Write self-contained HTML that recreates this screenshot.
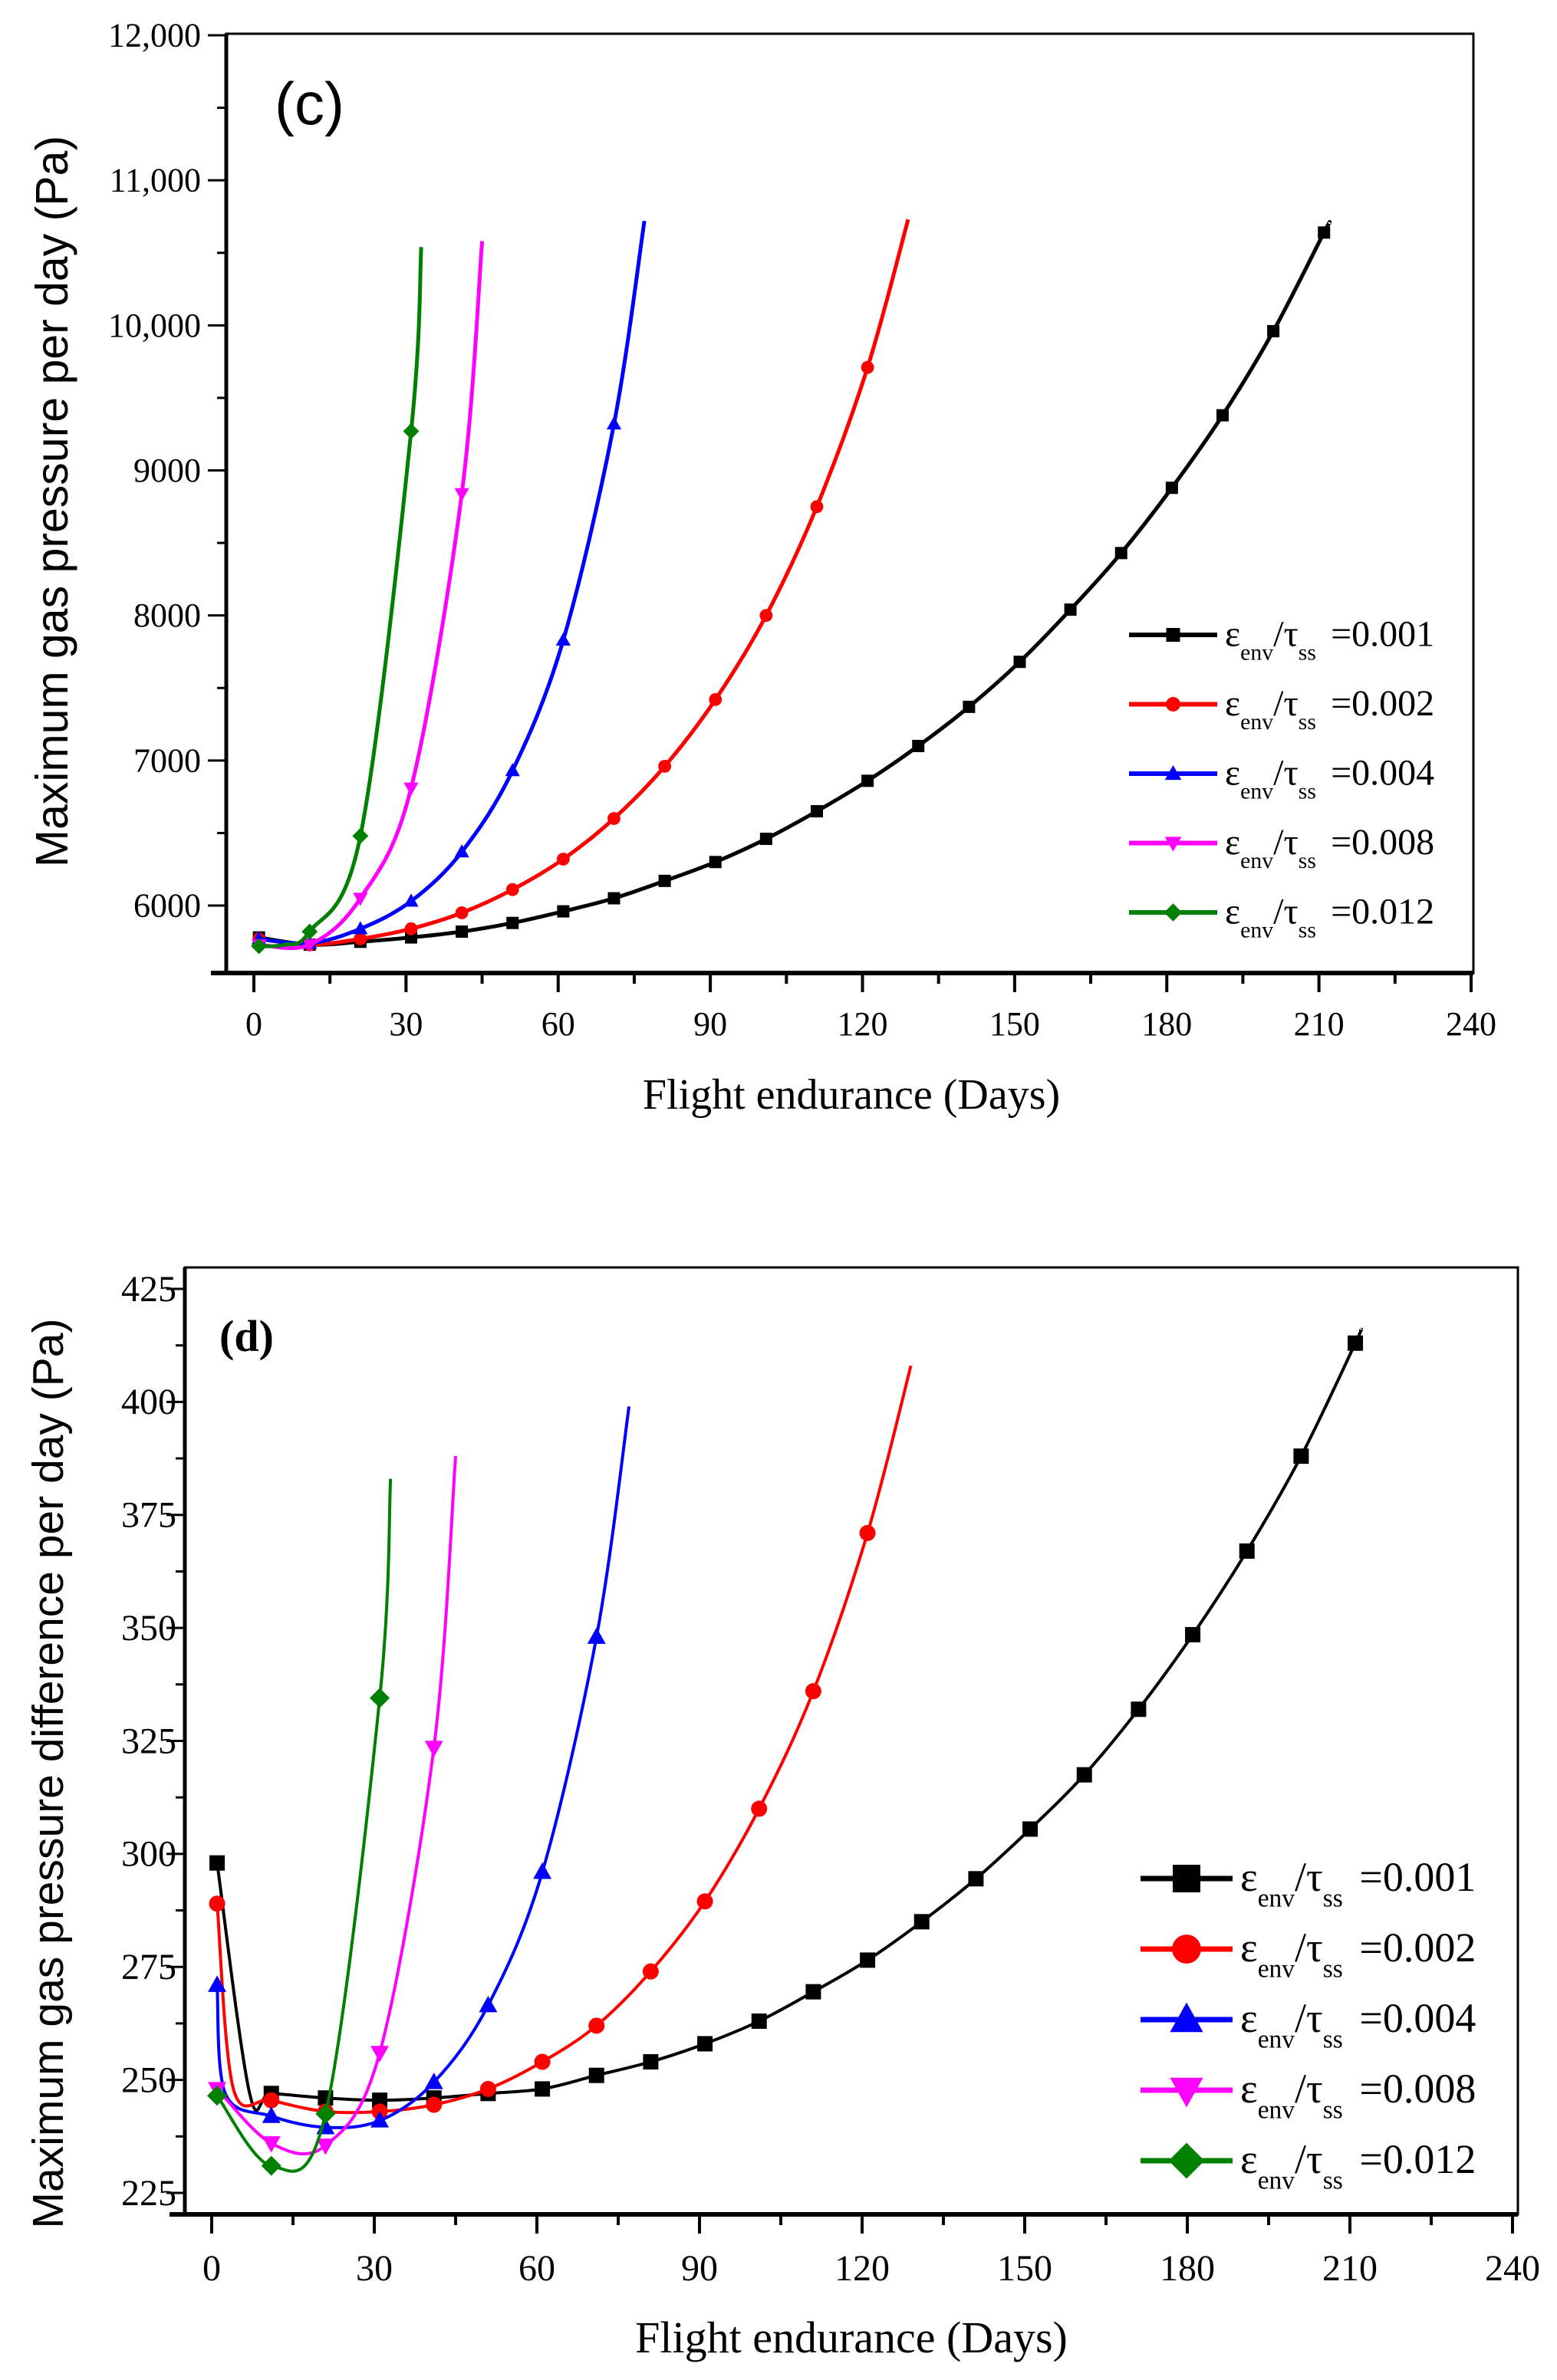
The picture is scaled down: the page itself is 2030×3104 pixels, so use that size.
<!DOCTYPE html>
<html><head><meta charset="utf-8">
<style>
html,body{margin:0;padding:0;background:#fff;}
svg{display:block;}
text{font-family:"Liberation Serif",serif;fill:#000;}
</style></head>
<body>
<svg id="fig" width="2030" height="3104" viewBox="0 0 2030 3104" xmlns="http://www.w3.org/2000/svg"></svg>
<script>
// ---- Chart (c) data ----
const cSeriesNames = ["0.001","0.002","0.004","0.008","0.012"];
const cDays001 = [1,11,21,31,41,51,61,71,81,91,101,111,121,131,141,151,161,171,181,191,201,211,212];
const cVals001 = [5780,5730,5750,5780,5820,5880,5960,6050,6170,6300,6460,6650,6860,7100,7370,7680,8040,8430,8880,9380,9960,10640,10700];
const cDays002 = [1,11,21,31,41,51,61,71,81,91,101,111,121,129];
const cVals002 = [5770,5730,5770,5840,5950,6110,6320,6600,6960,7420,8000,8750,9710,10730];
const cDays004 = [1,11,21,31,41,51,61,71,77];
const cVals004 = [5770,5740,5840,6030,6370,6930,7830,9320,10720];
const cDays008 = [1,11,21,31,41,45];
const cVals008 = [5730,5730,6050,6810,8840,10580];
const cDays012 = [1,6,11,21,31,33];
const cVals012 = [5720,5730,5820,6480,9270,10540];
const cYTicks = [6000,7000,8000,9000,10000,11000,12000];
const cYTickLabels = ["6000","7000","8000","9000","10,000","11,000","12,000"];
const xTicks = [0,30,60,90,120,150,180,210,240];
const xTickLabels = ["0","30","60","90","120","150","180","210","240"];

// ---- Chart (d) data ----
const dDays001 = [1,7,11,21,31,41,51,61,71,81,91,101,111,121,131,141,151,161,171,181,191,201,211,212];
const dVals001 = [298,247,247,246,245.5,246,247,248,251,254,258,263,269.5,276.5,285,294.5,305.5,317.5,332,348.5,367,388,413,416];
const dDays002 = [1,4,11,21,31,41,51,61,71,81,91,101,111,121,129];
const dVals002 = [289,248,245.5,243,243,244.5,248,254,262,274,289.5,310,336,371,408];
const dDays004 = [1,2.5,11,21,31,41,51,61,71,77];
const dVals004 = [271,247,242,239.5,241,249.5,266.5,296,348,399];
const dDays008 = [1,11,21,31,41,45];
const dVals008 = [248,236,235.5,256,323.5,388];
const dDays012 = [1,11,21,31,33];
const dVals012 = [246.5,231,242.5,334.5,383];
const dYTicks = [225,250,275,300,325,350,375,400,425];
const dYTickLabels = ["225","250","275","300","325","350","375","400","425"];

const colors = ["#000000","#ff0000","#0000ff","#ff00ff","#008000"];
const markerTypes = ["square","circle","triangle","tridown","diamond"];
const NS = "http://www.w3.org/2000/svg";
const fig = document.getElementById("fig");

function mk(tag, attrs, parent){
  const e = document.createElementNS(NS, tag);
  for (const k in attrs) e.setAttribute(k, attrs[k]);
  (parent||fig).appendChild(e);
  return e;
}

function smoothPath(pts){
  let d = "M" + pts[0][0].toFixed(1) + "," + pts[0][1].toFixed(1);
  for (let i=0;i<pts.length-1;i++){
    const p0 = pts[i-1]||pts[i], p1 = pts[i], p2 = pts[i+1], p3 = pts[i+2]||p2;
    const t = 6;
    const c1 = [p1[0]+(p2[0]-p0[0])/t, p1[1]+(p2[1]-p0[1])/t];
    const c2 = [p2[0]-(p3[0]-p1[0])/t, p2[1]-(p3[1]-p1[1])/t];
    d += " C"+c1[0].toFixed(1)+","+c1[1].toFixed(1)+" "+c2[0].toFixed(1)+","+c2[1].toFixed(1)+" "+p2[0].toFixed(1)+","+p2[1].toFixed(1);
  }
  return d;
}

function marker(type, x, y, s, color, parent){
  let e;
  if (type==="square") e = mk("rect",{x:x-s/2,y:y-s/2,width:s,height:s,fill:color},parent);
  else if (type==="circle") e = mk("circle",{cx:x,cy:y,r:s/2*1.05,fill:color},parent);
  else if (type==="triangle") e = mk("polygon",{points:`${x},${y-s*0.62} ${x-s*0.6},${y+s*0.45} ${x+s*0.6},${y+s*0.45}`,fill:color},parent);
  else if (type==="tridown") e = mk("polygon",{points:`${x},${y+s*0.62} ${x-s*0.6},${y-s*0.45} ${x+s*0.6},${y-s*0.45}`,fill:color},parent);
  else e = mk("polygon",{points:`${x},${y-s*0.65} ${x+s*0.65},${y} ${x},${y+s*0.65} ${x-s*0.65},${y}`,fill:color},parent);
  return e;
}

function drawChart(cfg){
  const g = mk("g",{});
  
  
  const xs = d => cfg.x0 + d*cfg.xPerDay;
  const ys = v => cfg.yRefPx - (v-cfg.yRefVal)*cfg.yPerUnit;
  cfg.series.forEach((s,i)=>{
    const pts = s.days.map((d,j)=>[xs(d), ys(s.vals[j])]);
    const p = mk("path",{d:smoothPath(pts),fill:"none",stroke:colors[i],"stroke-width":cfg.lw,"stroke-linejoin":"round"},g);
    
    
    s.days.forEach((d,j)=>{
      if (d%10!==1) return;
      const m = marker(markerTypes[i], xs(d), ys(s.vals[j]), cfg.ms, colors[i], g);
      
      
    });
  });
  const fr = mk("rect",{x:cfg.L,y:cfg.T,width:cfg.R-cfg.L,height:cfg.B-cfg.T,fill:"none",stroke:"#000","stroke-width":3},g);
  
  
  const xa = mk("line",{x1:cfg.L-20,y1:cfg.B,x2:cfg.R,y2:cfg.B,stroke:"#000","stroke-width":6},g);
  
  
  const ya = mk("line",{x1:cfg.L,y1:cfg.T,x2:cfg.L,y2:cfg.B,stroke:"#000","stroke-width":5},g);
  
  
  for (let d=0; d<=240; d+=15){
    const major = d%30===0;
    mk("line",{x1:xs(d),y1:cfg.B,x2:xs(d),y2:cfg.B+(major?25:14),stroke:"#000","stroke-width":4},g);
  }
  xTicks.forEach((d,i)=>{
    const t = mk("text",{x:xs(d),y:cfg.xLabY,"font-size":cfg.tickFs,"text-anchor":"middle"},g);
    t.textContent = xTickLabels[i];
    
    
  });
  for (let k=0;k<cfg.yMinor.length;k++){
    const v = cfg.yMinor[k];
    const y = ys(v); if (y<cfg.T-1||y>cfg.B+1) continue;
    mk("line",{x1:cfg.L-12,y1:y,x2:cfg.L,y2:y,stroke:"#000","stroke-width":3},g);
  }
  cfg.yTicks.forEach((v,i)=>{
    const y = ys(v);
    mk("line",{x1:cfg.L-24,y1:y,x2:cfg.L,y2:y,stroke:"#000","stroke-width":3},g);
    const t = mk("text",{x:cfg.yLabX,y:y+cfg.tickFs*0.33,"font-size":cfg.tickFs,"text-anchor":"end"},g);
    t.textContent = cfg.yTickLabels[i];
    
    
  });
  cfg.names.forEach((n,i)=>{
    const y = cfg.legY0 + i*cfg.legDy;
    const lg = mk("g",{},g);
    
    
    mk("line",{x1:cfg.legX,y1:y,x2:cfg.legX+cfg.legLen,y2:y,stroke:colors[i],"stroke-width":cfg.legLw},lg);
    marker(markerTypes[i], cfg.legX+cfg.legLen/2, y, cfg.legMs, colors[i], lg);
    const t = mk("text",{x:cfg.legX+cfg.legLen+10,y:y+cfg.legFs*0.3,"font-size":cfg.legFs},lg);
    t.innerHTML = `ε<tspan font-size="${cfg.legFs*0.62}" dy="${cfg.legFs*0.38}">env</tspan><tspan dy="${-cfg.legFs*0.38}">/τ</tspan><tspan font-size="${cfg.legFs*0.62}" dy="${cfg.legFs*0.38}">ss</tspan><tspan dy="${-cfg.legFs*0.38}" dx="${cfg.legFs*0.4}">=0.${n.slice(2)}</tspan>`;
  });
  return g;
}

const names = ["0.001","0.002","0.004","0.008","0.012"];

drawChart({
  name:"chart-c", names:cSeriesNames,
  L:295,R:1921,T:44,B:1269,
  x0:331,xPerDay:(1918-331)/240,
  yRefVal:6000,yRefPx:1181,yPerUnit:(1181-46)/6000,
  yTicks:cYTicks,yTickLabels:cYTickLabels,
  yMinor:[5500,6500,7500,8500,9500,10500,11500],
  series:[{days:cDays001,vals:cVals001},{days:cDays002,vals:cVals002},{days:cDays004,vals:cVals004},{days:cDays008,vals:cVals008},{days:cDays012,vals:cVals012}],
  lw:5,ms:16,tickFs:44,xLabY:1350,yLabX:262,
  legX:1472,legLen:115,legY0:828,legDy:90.5,legLw:6,legMs:18,legFs:48
});
drawChart({
  name:"chart-d", names:names,
  L:241,R:1979,T:1653,B:2888,
  x0:276,xPerDay:(1972-276)/240,
  yRefVal:225,yRefPx:2860,yPerUnit:(2860-1681)/200,
  yTicks:dYTicks,yTickLabels:dYTickLabels,
  yMinor:[237.5,262.5,287.5,312.5,337.5,362.5,387.5,412.5],
  series:[{days:dDays001,vals:dVals001},{days:dDays002,vals:dVals002},{days:dDays004,vals:dVals004},{days:dDays008,vals:dVals008},{days:dDays012,vals:dVals012}],
  lw:4,ms:20,tickFs:48,xLabY:2974,yLabX:230,
  legX:1487,legLen:120,legY0:2450,legDy:92,legLw:7,legMs:36,legFs:54
});

let t;
t = mk("text",{x:1110,y:1446,"font-size":56,"text-anchor":"middle"});
t.textContent = "Flight endurance (Days)";


t = mk("text",{x:1110,y:3068,"font-size":58,"text-anchor":"middle"});
t.textContent = "Flight endurance (Days)";


t = mk("text",{x:0,y:0,"font-size":59,"text-anchor":"middle",transform:"translate(88,654) rotate(-90)",style:"font-family:'Liberation Sans',sans-serif"});
t.textContent = "Maximum gas pressure per day (Pa)";


t = mk("text",{x:0,y:0,"font-size":57,"text-anchor":"middle",transform:"translate(82,2313) rotate(-90)",style:"font-family:'Liberation Sans',sans-serif"});
t.textContent = "Maximum gas pressure difference per day (Pa)";


t = mk("text",{x:358,y:162,"font-size":78,style:"font-family:'Liberation Sans',sans-serif"});
t.textContent = "(c)";


t = mk("text",{x:286,y:1762,"font-size":58,"font-weight":"bold"});
t.textContent = "(d)";


</script>
</body></html>
